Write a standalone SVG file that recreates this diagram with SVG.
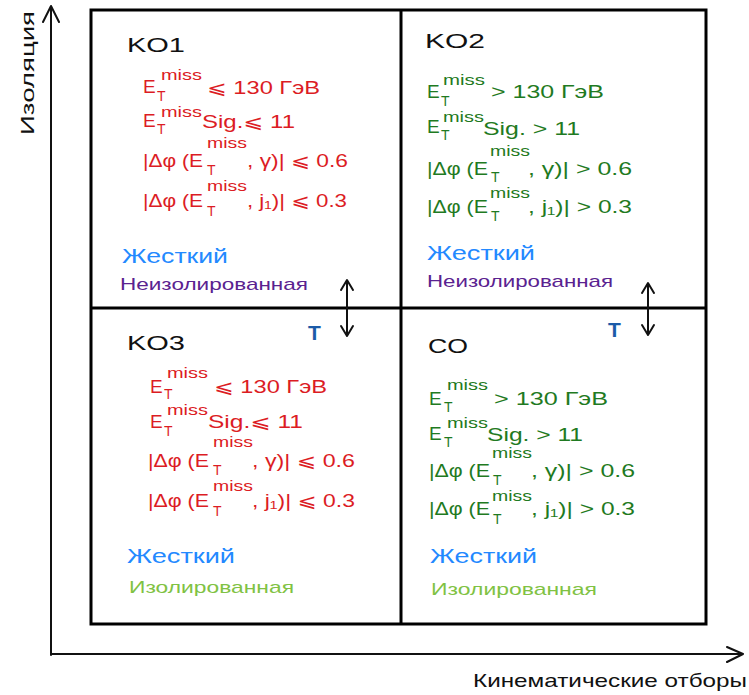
<svg xmlns="http://www.w3.org/2000/svg" width="749" height="695" viewBox="0 0 749 695">
<defs>
<style>
text{font-family:"Liberation Sans","DejaVu Sans",sans-serif}
.ttl{font-size:21px;fill:#111}
.r{fill:#dc1c24}
.g{fill:#1f7a22}
.E{font-size:19px}
.m{font-size:14px}
.s{font-size:14px}
.t{font-size:18px}
.hard{font-size:20px;fill:#2389ff}
.niso{font-size:17px;fill:#5a2290}
.iso{font-size:17px;fill:#80c243}
.tau{font-size:21px;font-weight:bold;fill:#1b5ba8}
.ax{fill:none;stroke:#111;stroke-width:2;stroke-linecap:round;stroke-linejoin:round}
.box{fill:none;stroke:#000;stroke-width:3}
</style>
</defs>
<rect width="749" height="695" fill="#fff"/>

<g id="grid">
<rect class="box" x="91" y="10" width="615" height="614"/>
<line class="box" x1="401" y1="10" x2="401" y2="624"/>
<line class="box" x1="91" y1="308" x2="706" y2="308"/>
</g>

<g id="connectors">
<path class="ax" d="M51,655 L51,6 M43,22 L51,6 L59,22"/>
<path class="ax" d="M51,654 L743,654 M727,647 L743,654 L727,662"/>
<path class="ax" d="M347,281 L347,335 M341,290 L347,280 L353,290 M341,326 L347,336 L353,326"/>
<path class="ax" d="M648,284 L648,334 M642,293 L648,283 L654,293 M642,325 L648,335 L654,325"/>
</g>

<g id="axis-y-label">
<text x="34" y="135" transform="rotate(-90 34 135)" font-size="19" fill="#111" textLength="124" lengthAdjust="spacingAndGlyphs">Изоляция</text>
</g>
<g id="axis-x-label">
<text x="473" y="687" font-size="19" fill="#111" textLength="274" lengthAdjust="spacingAndGlyphs">Кинематические отборы</text>
</g>

<g id="KO1">
<text class="ttl" x="127" y="52" textLength="58" lengthAdjust="spacingAndGlyphs">KO1</text>
<g class="r">
<text class="E" x="143" y="93">E</text><text class="m" x="161" y="80" textLength="41" lengthAdjust="spacingAndGlyphs">miss</text><text class="s" x="157" y="101">T</text>
<text class="t" x="207" y="94" textLength="113" lengthAdjust="spacingAndGlyphs">⩽ 130 ГэВ</text>
<text class="E" x="143" y="127">E</text><text class="m" x="161" y="117" textLength="41" lengthAdjust="spacingAndGlyphs">miss</text><text class="s" x="157" y="134">T</text>
<text class="t" x="202" y="128" textLength="93" lengthAdjust="spacingAndGlyphs">Sig.⩽ 11</text>
<text class="t" x="143" y="167" textLength="60" lengthAdjust="spacingAndGlyphs">|Δφ (E</text><text class="m" x="207" y="148" textLength="40" lengthAdjust="spacingAndGlyphs">miss</text><text class="s" x="207" y="175">T</text>
<text class="t" x="247" y="167" textLength="101" lengthAdjust="spacingAndGlyphs">, γ)| ⩽ 0.6</text>
<text class="t" x="143" y="207" textLength="60" lengthAdjust="spacingAndGlyphs">|Δφ (E</text><text class="m" x="207" y="191" textLength="40" lengthAdjust="spacingAndGlyphs">miss</text><text class="s" x="207" y="216">T</text>
<text class="t" x="247" y="207" textLength="100" lengthAdjust="spacingAndGlyphs">, j₁)| ⩽ 0.3</text>
</g>
<text class="hard" x="122" y="263" textLength="106" lengthAdjust="spacingAndGlyphs">Жесткий</text>
<text class="niso" x="120" y="290" textLength="188" lengthAdjust="spacingAndGlyphs">Неизолированная</text>
</g>

<g id="KO2">
<text class="ttl" x="425" y="48" textLength="60" lengthAdjust="spacingAndGlyphs">KO2</text>
<g class="g">
<text class="E" x="427" y="98">E</text><text class="m" x="443" y="85" textLength="42" lengthAdjust="spacingAndGlyphs">miss</text><text class="s" x="441" y="106">T</text>
<text class="t" x="491" y="98" textLength="113" lengthAdjust="spacingAndGlyphs">&gt; 130 ГэВ</text>
<text class="E" x="427" y="133">E</text><text class="m" x="443" y="122" textLength="41" lengthAdjust="spacingAndGlyphs">miss</text><text class="s" x="441" y="140">T</text>
<text class="t" x="483" y="135" textLength="97" lengthAdjust="spacingAndGlyphs">Sig. &gt; 11</text>
<text class="t" x="427" y="175" textLength="61" lengthAdjust="spacingAndGlyphs">|Δφ (E</text><text class="m" x="490" y="156" textLength="40" lengthAdjust="spacingAndGlyphs">miss</text><text class="s" x="491" y="182">T</text>
<text class="t" x="528" y="175" textLength="104" lengthAdjust="spacingAndGlyphs">, γ)| &gt; 0.6</text>
<text class="t" x="427" y="213" textLength="61" lengthAdjust="spacingAndGlyphs">|Δφ (E</text><text class="m" x="490" y="198" textLength="40" lengthAdjust="spacingAndGlyphs">miss</text><text class="s" x="491" y="221">T</text>
<text class="t" x="528" y="213" textLength="104" lengthAdjust="spacingAndGlyphs">, j₁)| &gt; 0.3</text>
</g>
<text class="hard" x="427" y="260" textLength="108" lengthAdjust="spacingAndGlyphs">Жесткий</text>
<text class="niso" x="427" y="287" textLength="186" lengthAdjust="spacingAndGlyphs">Неизолированная</text>
</g>

<g id="KO3">
<text class="ttl" x="127" y="350" textLength="58" lengthAdjust="spacingAndGlyphs">KO3</text>
<text class="tau" x="308" y="340">T</text>
<g class="r">
<text class="E" x="150" y="393">E</text><text class="m" x="167" y="378" textLength="41" lengthAdjust="spacingAndGlyphs">miss</text><text class="s" x="164" y="399">T</text>
<text class="t" x="214" y="393" textLength="113" lengthAdjust="spacingAndGlyphs">⩽ 130 ГэВ</text>
<text class="E" x="150" y="428">E</text><text class="m" x="167" y="415" textLength="41" lengthAdjust="spacingAndGlyphs">miss</text><text class="s" x="164" y="436">T</text>
<text class="t" x="208" y="428" textLength="95" lengthAdjust="spacingAndGlyphs">Sig.⩽ 11</text>
<text class="t" x="148" y="467" textLength="61" lengthAdjust="spacingAndGlyphs">|Δφ (E</text><text class="m" x="213" y="447" textLength="40" lengthAdjust="spacingAndGlyphs">miss</text><text class="s" x="213" y="475">T</text>
<text class="t" x="252" y="467" textLength="103" lengthAdjust="spacingAndGlyphs">, γ)| ⩽ 0.6</text>
<text class="t" x="148" y="507" textLength="61" lengthAdjust="spacingAndGlyphs">|Δφ (E</text><text class="m" x="213" y="491" textLength="40" lengthAdjust="spacingAndGlyphs">miss</text><text class="s" x="213" y="516">T</text>
<text class="t" x="252" y="507" textLength="103" lengthAdjust="spacingAndGlyphs">, j₁)| ⩽ 0.3</text>
</g>
<text class="hard" x="127" y="563" textLength="108" lengthAdjust="spacingAndGlyphs">Жесткий</text>
<text class="iso" x="129" y="593" textLength="165" lengthAdjust="spacingAndGlyphs">Изолированная</text>
</g>

<g id="CO">
<text class="ttl" x="428" y="353" textLength="40" lengthAdjust="spacingAndGlyphs">CO</text>
<text class="tau" x="608" y="337">T</text>
<g class="g">
<text class="E" x="429" y="405">E</text><text class="m" x="447" y="390" textLength="41" lengthAdjust="spacingAndGlyphs">miss</text><text class="s" x="444" y="412">T</text>
<text class="t" x="494" y="405" textLength="114" lengthAdjust="spacingAndGlyphs">&gt; 130 ГэВ</text>
<text class="E" x="429" y="440">E</text><text class="m" x="447" y="428" textLength="41" lengthAdjust="spacingAndGlyphs">miss</text><text class="s" x="444" y="447">T</text>
<text class="t" x="487" y="441" textLength="96" lengthAdjust="spacingAndGlyphs">Sig. &gt; 11</text>
<text class="t" x="429" y="477" textLength="61" lengthAdjust="spacingAndGlyphs">|Δφ (E</text><text class="m" x="492" y="458" textLength="40" lengthAdjust="spacingAndGlyphs">miss</text><text class="s" x="493" y="485">T</text>
<text class="t" x="531" y="477" textLength="104" lengthAdjust="spacingAndGlyphs">, γ)| &gt; 0.6</text>
<text class="t" x="429" y="515" textLength="61" lengthAdjust="spacingAndGlyphs">|Δφ (E</text><text class="m" x="492" y="501" textLength="40" lengthAdjust="spacingAndGlyphs">miss</text><text class="s" x="493" y="524">T</text>
<text class="t" x="531" y="515" textLength="104" lengthAdjust="spacingAndGlyphs">, j₁)| &gt; 0.3</text>
</g>
<text class="hard" x="430" y="563" textLength="107" lengthAdjust="spacingAndGlyphs">Жесткий</text>
<text class="iso" x="431" y="595" textLength="166" lengthAdjust="spacingAndGlyphs">Изолированная</text>
</g>
</svg>
